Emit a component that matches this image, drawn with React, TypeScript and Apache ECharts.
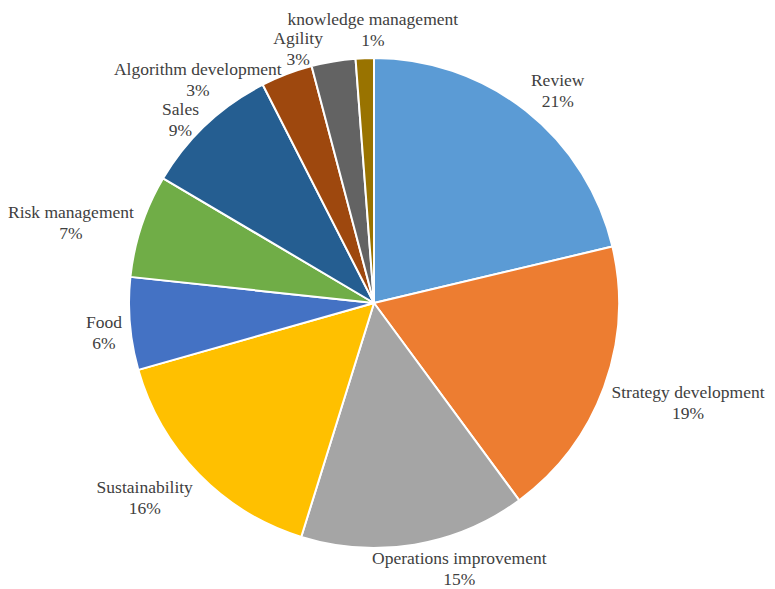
import React, { useEffect, useRef } from "react";
import * as echarts from "echarts";

const categories = [
  "Review",
  "Strategy development",
  "Operations improvement",
  "Sustainability",
  "Food",
  "Risk management",
  "Sales",
  "Algorithm development",
  "Agility",
  "knowledge management",
];
const shares = [21.3, 18.6, 14.9, 15.8, 6.1, 6.8, 9.0, 3.4, 2.9, 1.2];
const sliceColors = [
  "#5B9BD5",
  "#ED7D31",
  "#A5A5A5",
  "#FFC000",
  "#4472C4",
  "#70AD47",
  "#255E91",
  "#9E480E",
  "#636363",
  "#997300",
];

const W = 775;
const H = 589;
const CX = 374;
const CY = 303;
const R = 245;
const GAP = 8;
const SIDE_DROP = 6;
const MIN_CLEAR = 0;
const FONT_SIZE = 17.5;
const LINE_H = 21;
const GLYPH_H = 19;
const FONT_FAMILY = "'Liberation Serif', 'Times New Roman', serif";

const labelText = (i: number) => [categories[i], `${Math.round(shares[i])}%`];

function computeLabelPositions() {
  const canvas = document.createElement("canvas");
  const ctx = canvas.getContext("2d")!;
  ctx.font = `${FONT_SIZE}px ${FONT_FAMILY}`;
  const total = shares.reduce((a, b) => a + b, 0);
  const n = shares.length;
  const lineWidths = shares.map((_, i) => labelText(i).map((t) => ctx.measureText(t).width));
  const angles = shares.map((v, i) => {
    const before = shares.slice(0, i).reduce((a, b) => a + b, 0);
    return ((before + v / 2) / total) * 2 * Math.PI;
  });
  const inset = shares.map(() => 0);
  const place = (i: number) => {
    const a = angles[i];
    const ux = Math.sin(a);
    const uy = -Math.cos(a);
    const w = Math.max(...lineWidths[i]);
    const h = LINE_H * 2;
    const d = R + GAP - inset[i];
    const x = CX + ux * d + Math.sign(ux) * Math.min(1, 3 * Math.abs(ux)) * (w / 2);
    let y = CY + uy * d + (uy * h) / 2 + SIDE_DROP * (1 - uy * uy);
    y = Math.min(y, H - 21);
    return { x, y };
  };
  const boxes = (i: number, glyphH: number) => {
    const p = place(i);
    return lineWidths[i].map((lw, k) => ({
      x0: p.x - lw / 2 - 2,
      x1: p.x + lw / 2 + 2,
      y0: p.y + (k - 0.5) * LINE_H - glyphH / 2,
      y1: p.y + (k - 0.5) * LINE_H + glyphH / 2,
    }));
  };
  const touchesPie = (i: number) =>
    boxes(i, 13).some((b) => {
      const dx = Math.max(b.x0 - CX, 0, CX - b.x1);
      const dy = Math.max(b.y0 - CY, 0, CY - b.y1);
      return Math.hypot(dx, dy) < R + MIN_CLEAR;
    });
  const overlap = (i: number, j: number) => {
    const bi = boxes(i, GLYPH_H);
    const bj = boxes(j, GLYPH_H);
    for (const a of bi)
      for (const b of bj)
        if (a.x0 < b.x1 && b.x0 < a.x1 && a.y0 < b.y1 && b.y0 < a.y1) return true;
    return false;
  };
  const step = (0.2 * Math.PI) / 180;
  for (let iter = 0; iter < 4000; iter++) {
    let moved = false;
    for (let i = 0; i < n - 1; i++) {
      const j = i + 1;
      if (overlap(i, j)) {
        inset[i] += 1;
        if (touchesPie(i)) {
          inset[i] -= 1;
          angles[i] -= step;
          angles[j] += step * 0.35;
        }
        moved = true;
      }
    }
    if (!moved) break;
  }
  return shares.map((_, i) => place(i));
}

export default function App() {
  const ref = useRef<HTMLDivElement>(null);
  useEffect(() => {
    document.body.style.margin = "0";
    if (!ref.current) return;
    const chart = echarts.init(ref.current, undefined, { renderer: "svg" });
    const positions = computeLabelPositions();
    chart.setOption({
      animation: false,
      backgroundColor: "#ffffff",
      series: [
        {
          type: "pie",
          center: [CX, CY],
          radius: R,
          startAngle: 90,
          clockwise: true,
          avoidLabelOverlap: false,
          data: categories.map((name, i) => ({
            name,
            value: shares[i],
            itemStyle: { color: sliceColors[i] },
          })),
          itemStyle: { borderColor: "#ffffff", borderWidth: 2 },
          label: {
            show: true,
            position: "outside",
            formatter: (p: any) => labelText(p.dataIndex).join("\n"),
            fontFamily: FONT_FAMILY,
            fontSize: FONT_SIZE,
            lineHeight: LINE_H,
            color: "#404040",
            align: "center",
          },
          labelLine: { show: false },
          labelLayout: (p: any) => ({
            x: positions[p.dataIndex].x,
            y: positions[p.dataIndex].y,
            align: "center",
            verticalAlign: "middle",
          }),
          emphasis: { disabled: true },
        },
      ],
    });
    return () => chart.dispose();
  }, []);
  return <div ref={ref} style={{ width: W, height: H }} />;
}
